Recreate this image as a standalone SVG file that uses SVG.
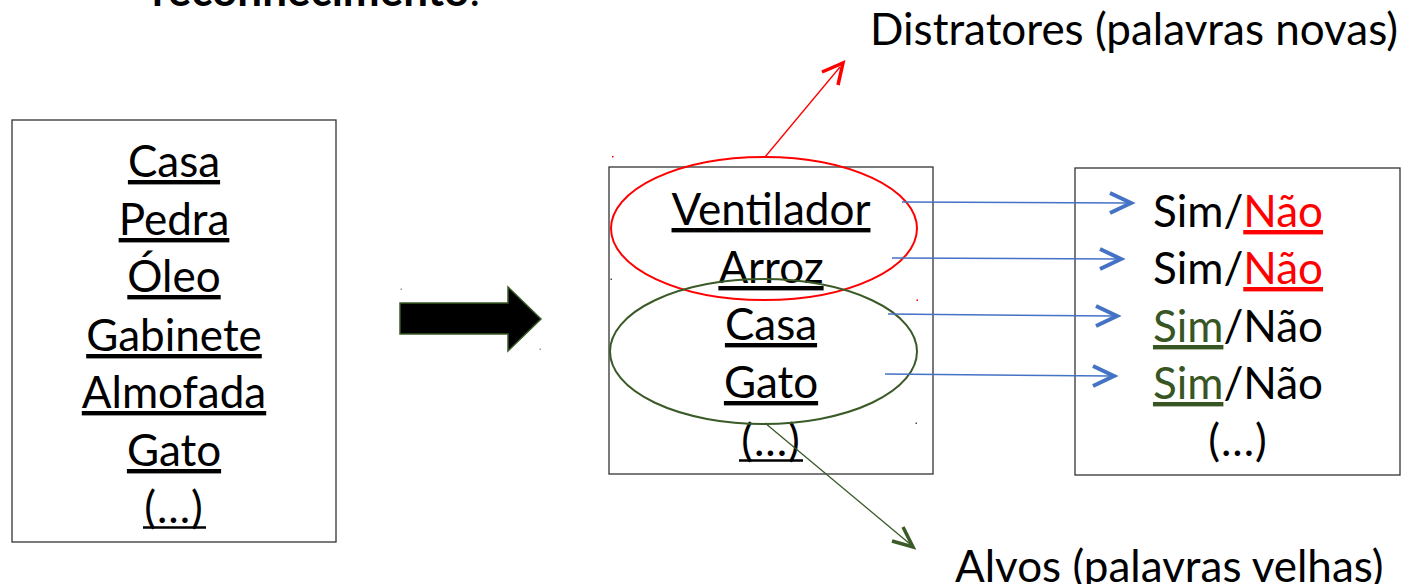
<svg xmlns="http://www.w3.org/2000/svg" width="1405" height="584" viewBox="0 0 1405 584">
  <defs>
    <style>
      .t { font-family: Lato, "Liberation Sans", sans-serif; font-size: 44px; fill: #000; }
      .c { text-anchor: middle; }
      .u { text-decoration: underline; text-decoration-skip-ink: none; }
      .ul { stroke: #000; stroke-width: 2.6; }
      .box { fill: #fff; stroke: #333; stroke-width: 1.3; }
      .red { fill: #ff0000; }
      .grn { fill: #375623; }
      .blue-line { stroke: #4472c4; stroke-width: 1.5; fill: none; }
      .blue-head { stroke: #4472c4; stroke-width: 4; fill: none; stroke-linejoin: miter; }
    </style>
  </defs>

  <rect width="1405" height="584" fill="#fff"/>

  <!-- heading line, cropped at the top edge -->
  <text class="t" x="152" y="6"><tspan font-weight="bold">reconhecimento</tspan>:</text>

  <!-- study list -->
  <g id="study-list">
    <rect class="box" x="12" y="120" width="324" height="422"/>
    <text class="t c u" x="174" y="177">Casa</text>
    <text class="t c u" x="174" y="235">Pedra</text>
    <text class="t c u" x="174" y="292">Óleo</text>
    <text class="t c u" x="174" y="351">Gabinete</text>
    <text class="t c u" x="174" y="408">Almofada</text>
    <text class="t c u" x="174" y="466">Gato</text>
    <text class="t c" x="174" y="523" letter-spacing="1">(...)</text>
    <line class="ul" x1="143" y1="527.5" x2="206" y2="527.5"/>
  </g>

  <!-- block arrow between lists -->
  <g id="block-arrow">
    <path d="M400,303 L508,303 L508,287 L541,319 L508,351 L508,334 L400,334 Z" fill="#000" stroke="#3a5a27" stroke-width="1.5"/>
    <rect x="400.5" y="288.5" width="1.5" height="1.5" fill="#999"/>
    <rect x="539.5" y="348.5" width="1.5" height="1.5" fill="#999"/>
  </g>

  <!-- test list -->
  <g id="test-list">
    <rect class="box" x="609" y="167" width="324" height="307"/>
    <text class="t c u" x="771" y="225">Ventilador</text>
    <text class="t c u" x="771" y="283">Arroz</text>
    <text class="t c u" x="771" y="340">Casa</text>
    <text class="t c u" x="771" y="398">Gato</text>
    <text class="t c" x="771" y="456" letter-spacing="1">(...)</text>
    <line class="ul" x1="739" y1="460.5" x2="803" y2="460.5"/>
  </g>

  <!-- distractor group -->
  <g id="distractors">
    <ellipse cx="764" cy="228.5" rx="153" ry="71.5" fill="none" stroke="#ff0000" stroke-width="2"/>
    <rect x="612" y="156" width="1.5" height="1.5" fill="#ff0000"/>
    <rect x="916.5" y="299.5" width="1.5" height="1.5" fill="#ff0000"/>
  </g>

  <!-- target group -->
  <g id="targets">
    <ellipse cx="763.5" cy="351.5" rx="153.5" ry="72.5" fill="none" stroke="#3a5a27" stroke-width="2"/>
    <rect x="610.5" y="278.5" width="1.5" height="1.5" fill="#3a5a27"/>
    <rect x="915.5" y="422.5" width="1.5" height="1.5" fill="#3a5a27"/>
  </g>

  <!-- responses -->
  <g id="responses">
    <rect class="box" x="1075" y="168" width="325" height="307"/>
    <text class="t c" x="1238" y="227">Sim/<tspan class="red u">Não</tspan></text>
    <text class="t c" x="1238" y="284">Sim/<tspan class="red u">Não</tspan></text>
    <text class="t c" x="1238" y="342"><tspan class="grn u">Sim</tspan>/Não</text>
    <text class="t c" x="1238" y="399"><tspan class="grn u">Sim</tspan>/Não</text>
    <text class="t c" x="1238" y="456" letter-spacing="1">(...)</text>
  </g>

  <!-- labels -->
  <g id="label-distractors">
    <text class="t" x="870" y="45">Distratores (palavras novas)</text>
  </g>
  <g id="label-targets">
    <text class="t" x="955" y="582">Alvos (palavras velhas)</text>
  </g>

  <!-- connectors -->
  <g id="connectors">
    <line x1="765" y1="157" x2="840" y2="67" stroke="#ff0000" stroke-width="1.3"/>
    <path d="M822,72 L843,63 L838,85" fill="none" stroke="#ff0000" stroke-width="3.5"/>

    <line x1="765" y1="423" x2="910" y2="544" stroke="#3a5a27" stroke-width="1.3"/>
    <path d="M892,541 L913,547 L903,527" fill="none" stroke="#3a5a27" stroke-width="3.5"/>

    <line class="blue-line" x1="902" y1="202" x2="1128" y2="203"/>
    <path class="blue-head" d="M1110,193 L1131,203 L1110,213"/>
    <line class="blue-line" x1="892" y1="258" x2="1118" y2="259"/>
    <path class="blue-head" d="M1100,249 L1121,259 L1100,269"/>
    <line class="blue-line" x1="888" y1="314" x2="1114" y2="316"/>
    <path class="blue-head" d="M1096,306 L1117,316 L1096,326"/>
    <line class="blue-line" x1="885" y1="374" x2="1111" y2="376"/>
    <path class="blue-head" d="M1093,366 L1114,376 L1093,386"/>
  </g>
</svg>
